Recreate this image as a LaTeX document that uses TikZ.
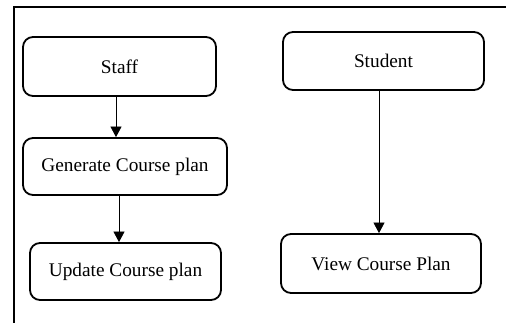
\documentclass[tikz,border=0pt]{standalone}
\usepackage{fontspec}
\setmainfont{Liberation Serif}
\usetikzlibrary{arrows.meta}
\begin{document}
\begin{tikzpicture}[x=1pt,y=-1pt,
  box/.style={draw,line width=1.8pt,rounded corners=10pt,minimum width=#1,inner sep=0pt,font=\fontsize{19.3}{23}\selectfont},
  arr/.style={line width=0.8pt,-{Triangle[length=10.5pt,width=11pt]}}]
\useasboundingbox (0,0) rectangle (506,323);
\draw[line width=1.6pt] (14,323) -- (14,7) -- (506,7);
\node[box=193pt,minimum height=59pt] (staff) at (119.5,66.5) {Staff};
\node[box=204pt,minimum height=57pt] (gen) at (125,166.5) {Generate Course plan};
\node[box=191pt,minimum height=57pt] (upd) at (125.5,271.5) {Update Course plan};
\node[box=201pt,minimum height=58pt] (stu) at (383.5,61) {Student};
\node[box=200pt,minimum height=59pt] (view) at (381,263.5) {View Course Plan};
\draw[arr] ([xshift=-3.5pt]staff.south) -- ([xshift=-3.5pt]staff.south |- gen.north);
\draw[arr] ([xshift=-6pt]gen.south) -- ([xshift=-6pt]gen.south |- upd.north);
\draw[arr] ([xshift=-4.5pt]stu.south) -- ([xshift=-4.5pt]stu.south |- view.north);
\end{tikzpicture}
\end{document}
